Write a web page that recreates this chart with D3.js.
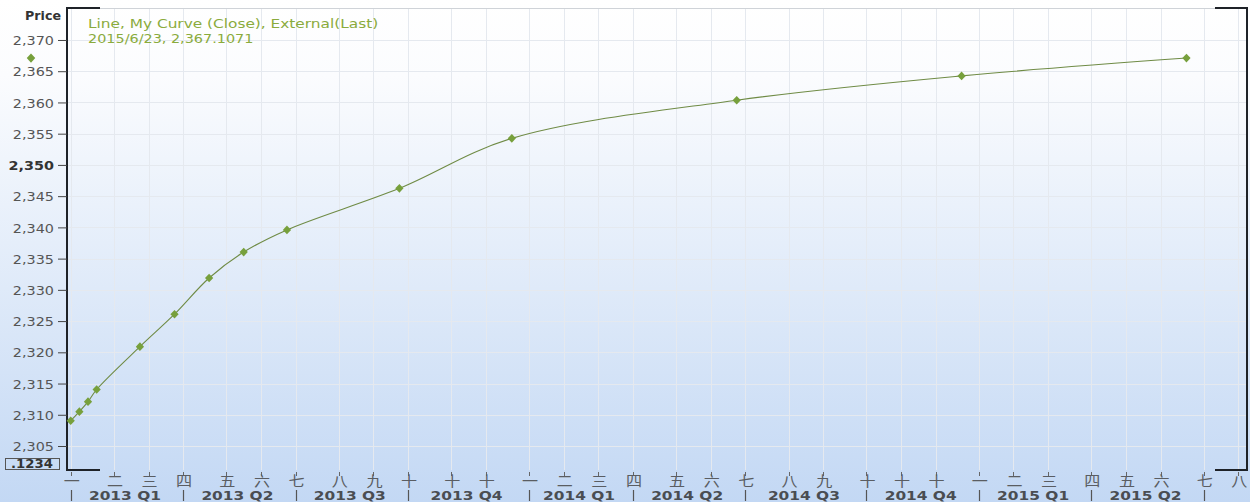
<!DOCTYPE html>
<html>
<head>
<meta charset="utf-8">
<script src="https://cdn.jsdelivr.net/npm/d3@7"></script>
<style>
  html, body { margin: 0; padding: 0; overflow: hidden; background: #fff; }
  svg { display: block; }
</style>
</head>
<body>
<svg id="chart" width="1250" height="502"></svg>
<script>
// weekly bars, each dated on its Tuesday
const dates = ['2013-01-01', '2013-01-08', '2013-01-15', '2013-01-22', '2013-02-26', '2013-03-26',
  '2013-04-23', '2013-05-21', '2013-06-25', '2013-09-24', '2013-12-24', '2014-06-24',
  '2014-12-23', '2015-06-23']
const closes = [2309.05, 2310.5, 2312.1, 2314.05, 2320.9, 2326.1, 2331.9, 2336.05, 2339.6,
  2346.25, 2354.25, 2360.35, 2364.25, 2367.1071]

const monthNames = ['一', '二', '三', '四', '五', '六', '七', '八', '九', '十', '十', '十']
const quarterLabels = ['2013 Q1', '2013 Q2', '2013 Q3', '2013 Q4', '2014 Q1', '2014 Q2',
  '2014 Q3', '2014 Q4', '2015 Q1', '2015 Q2']
const yTicks = [2305, 2310, 2315, 2320, 2325, 2330, 2335, 2340, 2345, 2350, 2355, 2360, 2365, 2370]

const seriesTitle = 'Line, My Curve (Close), External(Last)'
const lastLabel = '2015/6/23, 2,367.1071'
const cursorLabel = '.1234'

const W = 1250
const H = 502
const plot = {left: 67, right: 1247, top: 8, bottom: 470}
const STRETCH = 1.2 // text in the source is drawn a bit wide
const FONT = 'DejaVu Sans, Verdana, sans-serif'

const parse = d3.timeParse('%Y-%m-%d')
const origin = parse(dates[0])
const weekOf = d => d3.timeDay.count(origin, d) / 7

const data = dates.map((d, i) => ({date: parse(d), close: closes[i]}))

const x = d3.scaleLinear().domain([-0.43, 136]).range([plot.left, plot.right])
const y = d3.scaleLinear().domain([2301.16, 2375.12]).range([plot.bottom, plot.top])

const svg = d3.select('#chart')

// background
let defs = svg.append('defs')
let bg = defs.append('linearGradient').attr('id', 'bg').attr('x1', 0).attr('y1', 0).attr('x2', 0).attr('y2', 1)
bg.append('stop').attr('offset', 0).attr('stop-color', '#ffffff')
bg.append('stop').attr('offset', 0.15).attr('stop-color', '#fbfcfe')
bg.append('stop').attr('offset', 1).attr('stop-color', '#c3d8f4')
svg.append('rect').attr('width', W).attr('height', H).attr('fill', 'url(#bg)')

function label (g, px, py, str, opts) {
  opts = opts || {}
  let t = g.append('text')
    .attr('transform', `translate(${px},${py}) scale(${opts.stretch || STRETCH},1)`)
    .attr('font-family', opts.family || FONT)
    .attr('font-size', opts.size || 12)
    .attr('font-weight', opts.weight || 'normal')
    .attr('fill', opts.color || '#555')
    .attr('text-anchor', opts.anchor || 'start')
    .attr('dominant-baseline', 'central')
    .text(str)
  return t
}

// month gridlines (first weekly bar of each month)
let months = d3.timeMonth.range(parse('2013-01-01'), parse('2015-09-01'))
let monthPos = months.map(m => x(weekOf(d3.timeTuesday.ceil(m))))

let grid = svg.append('g').attr('stroke', '#e5e9ef').attr('stroke-width', 1)
grid.selectAll('line.v').data(monthPos).join('line')
  .attr('class', 'v')
  .attr('x1', d => Math.round(d) + 0.5).attr('x2', d => Math.round(d) + 0.5)
  .attr('y1', plot.top).attr('y2', plot.bottom)
grid.selectAll('line.h').data(yTicks).join('line')
  .attr('class', 'h')
  .attr('x1', plot.left).attr('x2', plot.right)
  .attr('y1', d => Math.round(y(d)) + 0.5).attr('y2', d => Math.round(y(d)) + 0.5)

// frame
let frame = svg.append('g').attr('fill', 'none')
frame.append('line').attr('x1', plot.left).attr('x2', plot.right).attr('y1', plot.top + 0.5).attr('y2', plot.top + 0.5)
  .attr('stroke', '#cfd3d8')
frame.append('path')
  .attr('d', `M${plot.left + 33},${plot.top} H${plot.left} V${plot.bottom} H${plot.left + 33}`)
  .attr('stroke', '#1e2228').attr('stroke-width', 2)
frame.append('path')
  .attr('d', `M${plot.right - 32},${plot.top} H${plot.right} V${plot.bottom} H${plot.right - 32}`)
  .attr('stroke', '#1e2228').attr('stroke-width', 2)

// y axis
let yAxis = svg.append('g').attr('transform', `translate(${plot.left},0)`)
  .call(d3.axisLeft(y).tickValues(yTicks).tickSize(9).tickPadding(4).tickFormat(d3.format(',')))
yAxis.select('.domain').remove()
yAxis.selectAll('.tick line').attr('stroke', '#444')
yAxis.selectAll('.tick text').remove()
yAxis.selectAll('.tick').each(function (d) {
  label(d3.select(this), -13, 0, d3.format(',')(d), {
    anchor: 'end', size: 12.5, stretch: 1.15, color: d === 2350 ? '#333' : '#555',
    weight: d === 2350 ? 'bold' : 'normal'
  })
})
label(svg, 61, 16, 'Price', {anchor: 'end', size: 11.5, weight: 'bold', color: '#333', stretch: 1.1})

// cursor value box
svg.append('rect').attr('x', 5.5).attr('y', 458.5).attr('width', 54).attr('height', 11)
  .attr('fill', 'none').attr('stroke', '#555').attr('stroke-width', 1)
label(svg, 32, 464, cursorLabel, {anchor: 'middle', size: 11.5, weight: 'bold', color: '#333', stretch: 1.15})

// x axis: month row
let xAxis = svg.append('g')
xAxis.selectAll('line').data(monthPos).join('line')
  .attr('x1', d => Math.round(d) + 0.5).attr('x2', d => Math.round(d) + 0.5)
  .attr('y1', plot.bottom + 2).attr('y2', plot.bottom + 6)
  .attr('stroke', '#666')
months.forEach((m, i) => {
  label(xAxis, monthPos[i] + 1, 480, monthNames[m.getMonth()], {
    anchor: 'middle', size: 14, family: 'Noto Sans CJK SC, sans-serif', color: '#5a5d62', stretch: 1.15
  })
})

// x axis: quarter row
let quarters = d3.timeMonth.every(3).range(parse('2013-01-01'), parse('2015-08-01'))
let quarterPos = quarters.map(q => x(weekOf(d3.timeTuesday.ceil(q))))
xAxis.selectAll('line.q').data(quarterPos).join('line')
  .attr('class', 'q')
  .attr('x1', d => Math.round(d) + 0.5).attr('x2', d => Math.round(d) + 0.5)
  .attr('y1', 490).attr('y2', 501)
  .attr('stroke', '#555').attr('stroke-width', 1.2)
quarterLabels.forEach((q, i) => {
  label(xAxis, (quarterPos[i] + quarterPos[i + 1]) / 2 - 2, 495.5, q, {
    anchor: 'middle', size: 11.5, weight: 'bold', color: '#4a4d52', stretch: 1.34
  })
})

// series
let line = d3.line()
  .x(d => x(weekOf(d.date)))
  .y(d => y(d.close))
  .curve(d3.curveCatmullRom.alpha(0.5))

svg.append('path').datum(data)
  .attr('d', line)
  .attr('fill', 'none')
  .attr('stroke', '#6f8b45')
  .attr('stroke-width', 1.1)

let diamond = d3.symbol(d3.symbolDiamond, 30)
svg.selectAll('path.pt').data(data).join('path')
  .attr('class', 'pt')
  .attr('d', diamond)
  .attr('transform', d => `translate(${x(weekOf(d.date))},${y(d.close)}) scale(1.4,0.85)`)
  .attr('fill', '#77a03c')

// last value marker on the axis
let last = data[data.length - 1]
svg.append('path').attr('d', diamond)
  .attr('transform', `translate(31,${y(last.close)}) scale(1.45,0.9)`)
  .attr('fill', '#77a03c')

// legend
label(svg, 88, 24, seriesTitle, {size: 12, color: '#8aab3c', stretch: 1.28})
label(svg, 88, 39, lastLabel, {size: 12, color: '#8aab3c', stretch: 1.2})
</script>
</body>
</html>
